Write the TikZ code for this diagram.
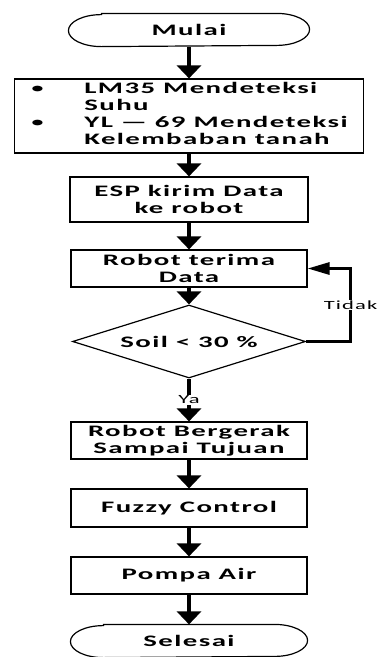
\documentclass[tikz,border=0pt]{standalone}
\usepackage{fontspec}
\setmainfont{Carlito}[FakeStretch=1.8, LetterSpace=9]
\usetikzlibrary{arrows.meta, shapes.geometric}

\tikzset{
	box/.style={draw, line width=1.2pt, minimum width=236pt, minimum height=37pt,
		inner sep=0pt, align=center, font=\bfseries\fontsize{16}{17}\selectfont},
	flow/.style={line width=4pt, -{Triangle[length=13pt, width=24pt]}},
	back/.style={line width=3pt, -{Triangle[length=22pt, width=12pt]}},
	lbl/.style={fill=white, inner sep=1pt, font=\fontsize{12.5}{14}\selectfont}
}

\begin{document}
\begin{tikzpicture}[x=1pt, y=-1pt]
	\useasboundingbox (0,0) rectangle (379,657);

	% Mulai
	\node[box, draw=none, minimum width=240pt, minimum height=32pt] (mulai) at (189,30) {Mulai};
	\draw[line width=1.2pt] ([xshift=33pt]mulai.north west) -- ([xshift=-33pt]mulai.north east)
		arc[start angle=90, end angle=-90, x radius=33pt, y radius=16pt]
		-- ([xshift=33pt]mulai.south west)
		arc[start angle=270, end angle=90, x radius=33pt, y radius=16pt] -- cycle;

	% Sensor
	\node[box, minimum width=349pt, minimum height=74pt] (sensor) at (189,116) {%
		\begin{tabular}{@{}p{54pt}@{}l@{}}
			\textmd{\textbullet} & LM35 Mendeteksi\\
			& Suhu\\
			\textmd{\textbullet} & YL — 69 Mendeteksi\\
			& Kelembaban tanah
		\end{tabular}};

	\node[box, minimum width=238pt, minimum height=45pt] (kirim) at (189,199.5) {ESP kirim Data\\ke robot};
	\node[box] (terima) at (189,268.5) {Robot terima\\Data};

	% Keputusan
	\node[box, shape=diamond, aspect=3.19, minimum width=233pt, minimum height=73pt] (soil) at (189,341.5) {Soil < 30 \%};

	\node[box] (gerak) at (189,440.5) {Robot Bergerak\\Sampai Tujuan};
	\node[box, minimum height=38pt] (fuzzy) at (189,508) {Fuzzy Control};
	\node[box] (pompa) at (189,575.5) {Pompa Air};

	% Selesai
	\node[box, draw=none, minimum width=236pt, minimum height=32pt] (selesai) at (189,641) {Selesai};
	\draw[line width=1.2pt] ([xshift=33pt]selesai.north west) -- ([xshift=-33pt]selesai.north east)
		arc[start angle=90, end angle=-90, x radius=33pt, y radius=16pt]
		-- ([xshift=33pt]selesai.south west)
		arc[start angle=270, end angle=90, x radius=33pt, y radius=16pt] -- cycle;

	% Panah
	\draw[flow] (mulai) -- (sensor);
	\draw[flow] (sensor) -- (kirim);
	\draw[flow] (kirim) -- (terima);
	\draw[flow] (terima) -- (soil);
	\draw[flow] (soil) -- node[lbl] {Ya} (gerak);
	\draw[flow] (gerak) -- (fuzzy);
	\draw[flow] (fuzzy) -- (pompa);
	\draw[flow] (pompa) -- (selesai);
	\draw[back] (soil.east) -| node[lbl, pos=0.75] {Tidak} ([xshift=43pt]terima.east) -- (terima.east);
\end{tikzpicture}
\end{document}
